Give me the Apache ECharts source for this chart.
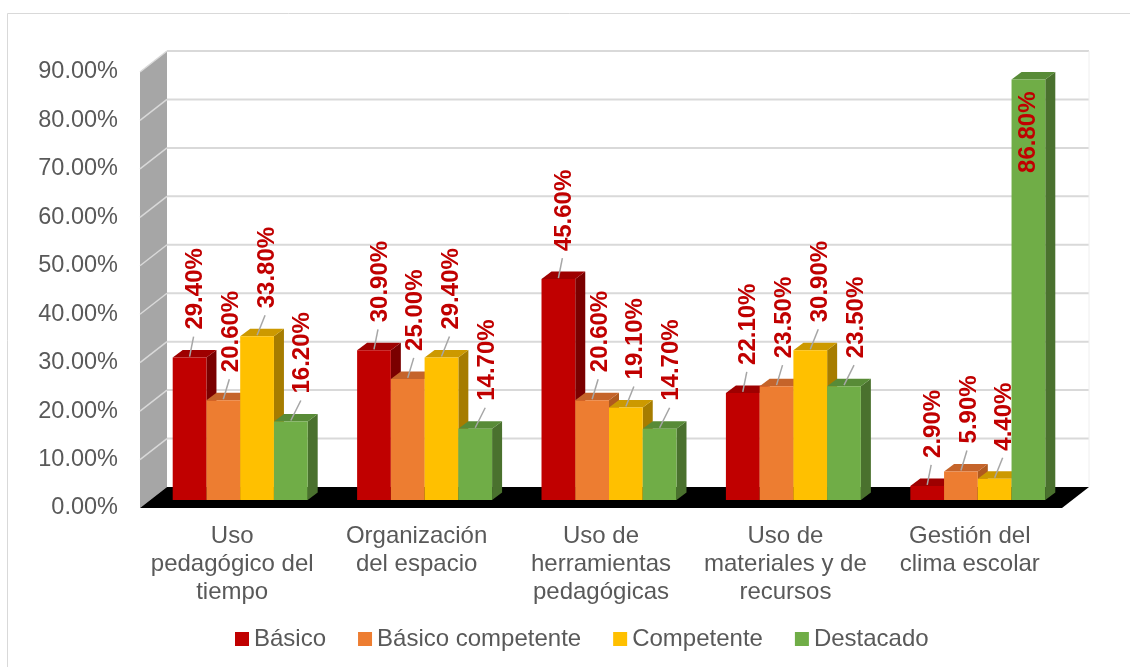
<!DOCTYPE html>
<html><head><meta charset="utf-8">
<script src="https://cdn.jsdelivr.net/npm/echarts@6/dist/echarts.min.js"></script>
<style>html,body{margin:0;padding:0;background:#fff}#c{width:1130px;height:667px}</style>
</head><body><div id="c"></div>
<script>
// ---- data ----
const categories = ["Uso\npedagógico del\ntiempo", "Organización\ndel espacio", "Uso de\nherramientas\npedagógicas", "Uso de\nmateriales y de\nrecursos", "Gestión del\nclima escolar"];
const seriesNames = ["Básico", "Básico competente", "Competente", "Destacado"];
const basico = [29.4, 30.9, 45.6, 22.1, 2.9];
const basicoCompetente = [20.6, 25.0, 20.6, 23.5, 5.9];
const competente = [33.8, 29.4, 19.1, 30.9, 4.4];
const destacado = [16.2, 14.7, 14.7, 23.5, 86.8];
const yMin = 0, yMax = 90, yInterval = 10;

// ---- styles ----
const palette = [
  {front: '#C00000', top: '#9E0000', side: '#7A0000'},
  {front: '#ED7D31', top: '#C5642A', side: '#B05A1F'},
  {front: '#FFC000', top: '#CC9900', side: '#A67C00'},
  {front: '#70AD47', top: '#588B37', side: '#4A712E'}
];
const DEPTH_X = 27, DEPTH_Y = -21;   // wall depth
const BAR_X = 8, BAR_Y = -8;         // bar placement inside depth
const TOP_X = 10, TOP_Y = -7.5;      // bar depth
const FONT = '"Liberation Sans", Arial, sans-serif';

function renderWalls(params, api) {
  const cs = params.coordSys;
  const L = cs.x, R = cs.x + cs.width;
  const y0 = api.coord([0, yMin])[1];
  const yT = api.coord([0, yMax])[1];
  const children = [];
  children.push({type: 'polygon', shape: {points: [[L, y0], [L + DEPTH_X, y0 + DEPTH_Y], [L + DEPTH_X, yT + DEPTH_Y], [L, yT]]},
    style: {fill: '#A6A6A6'}});
  for (let v = yMin; v <= yMax; v += yInterval) {
    const y = api.coord([0, v])[1];
    if (v > yMin) {
      children.push({type: 'line', shape: {x1: L, y1: y, x2: L + DEPTH_X, y2: y + DEPTH_Y}, style: {stroke: '#D9D9D9', lineWidth: 1.5}});
      children.push({type: 'line', shape: {x1: L + DEPTH_X, y1: y + DEPTH_Y, x2: R + DEPTH_X, y2: y + DEPTH_Y}, style: {stroke: '#D9D9D9', lineWidth: 2}});
    }
  }
  children.push({type: 'line', shape: {x1: R + DEPTH_X, y1: y0 + DEPTH_Y, x2: R + DEPTH_X, y2: yT + DEPTH_Y}, style: {stroke: '#EEEEEE', lineWidth: 1}});
  children.push({type: 'polygon', shape: {points: [[L, y0], [R, y0], [R + DEPTH_X, y0 + DEPTH_Y], [L + DEPTH_X, y0 + DEPTH_Y]]},
    style: {fill: '#000000'}});
  return {type: 'group', children: children};
}

function makeBarRender(s) {
  return function (params, api) {
    const ci = api.value(0), v = api.value(1);
    const base = api.coord([ci, 0]);
    const top = api.coord([ci, v]);
    const band = api.size([1, 0])[0];
    const bw = band * 0.183;
    const x0 = base[0] - 2 * bw + s * bw + BAR_X;
    const x1 = x0 + bw;
    const yb = base[1] + BAR_Y;
    const yt = top[1] + BAR_Y;
    const c = palette[s];
    const cx = (x0 + x1) / 2;
    const children = [
      {type: 'polygon', shape: {points: [[x1, yt], [x1 + TOP_X, yt + TOP_Y], [x1 + TOP_X, yb + TOP_Y], [x1, yb]]}, style: {fill: c.side}},
      {type: 'polygon', shape: {points: [[x0, yt], [x1, yt], [x1 + TOP_X, yt + TOP_Y], [x0 + TOP_X, yt + TOP_Y]]}, style: {fill: c.top}},
      {type: 'rect', shape: {x: x0, y: yt, width: bw, height: yb - yt}, style: {fill: c.front}}
    ];
    const txt = v.toFixed(2) + '%';
    if (v > 80) {
      children.push({type: 'text', x: cx, y: yt + 12, rotation: Math.PI / 2,
        style: {text: txt, fill: '#C00000', font: 'bold 24px ' + FONT, align: 'right', verticalAlign: 'middle'}});
    } else {
      const o = 6 + 2 * s;
      children.push({type: 'line', shape: {x1: cx, y1: yt - 1, x2: cx + o - 2, y2: yt - 21}, style: {stroke: '#A6A6A6', lineWidth: 1.5}});
      children.push({type: 'text', x: cx + o, y: yt - 28, rotation: Math.PI / 2,
        style: {text: txt, fill: '#C00000', font: 'bold 24px ' + FONT, align: 'left', verticalAlign: 'middle'}});
    }
    return {type: 'group', children: children};
  };
}

const allValues = [basico, basicoCompetente, competente, destacado];
const series = [{
  type: 'custom', name: '_walls', silent: true, clip: false,
  renderItem: renderWalls, data: [[0, 0]], encode: {x: 0, y: 1}, z: 1
}];
allValues.forEach(function (vals, s) {
  series.push({
    type: 'custom', name: seriesNames[s], clip: false, z: 2,
    itemStyle: {color: palette[s].front},
    renderItem: makeBarRender(s),
    encode: {x: 0, y: 1},
    data: vals.map(function (v, i) { return [i, v]; })
  });
});

const chart = echarts.init(document.getElementById('c'), null, {renderer: 'canvas'});
chart.setOption({
  animation: false,
  backgroundColor: '#ffffff',
  textStyle: {fontFamily: FONT},
  graphic: [{type: 'rect', shape: {x: 7.5, y: 13.5, width: 1140, height: 680}, style: {fill: 'none', stroke: '#D9D9D9', lineWidth: 1}, z: -10}],
  grid: {left: 140, right: 68, top: 72, bottom: 159, containLabel: false},
  legend: {
    data: seriesNames, icon: 'rect', itemWidth: 14, itemHeight: 14, itemGap: 32,
    left: 235, top: 627, padding: 0,
    textStyle: {fontSize: 24, color: '#595959', fontFamily: FONT}
  },
  xAxis: {
    type: 'category', data: categories,
    axisLine: {show: false}, axisTick: {show: false}, splitLine: {show: false},
    axisLabel: {interval: 0, color: '#595959', fontSize: 24, lineHeight: 28, margin: 14, fontFamily: FONT}
  },
  yAxis: {
    type: 'value', min: yMin, max: yMax, interval: yInterval,
    axisLine: {show: false}, axisTick: {show: false}, splitLine: {show: false},
    axisLabel: {color: '#595959', fontSize: 23.5, margin: 22, fontFamily: FONT,
      formatter: function (v) { return v.toFixed(2) + '%'; }}
  },
  series: series
});
</script>
</body></html>
